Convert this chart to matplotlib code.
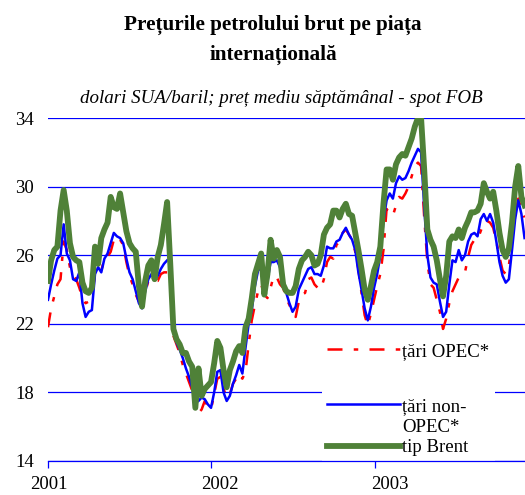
""" Weekly crude oil spot prices on the international market, 2001-2003. """

import matplotlib
matplotlib.use("Agg")
import matplotlib.pyplot as plt
from matplotlib.lines import Line2D
import numpy as np
import pandas as pd

# weekly averages, USD/barrel, starting with the first week of 2001
start = "2001-01-01"
nweeks = 153

opec = [
    21.8, 22.9, 23.6, 24.3, 24.6, 26.8, 26.3, 25.3, 24.8, 24.6,
    24.1, 23.5, 23.2, 23.3, 23.8, 24.8, 25.0, 25.1, 25.8, 25.9,
    26.2, 26.9, 27.1, 26.9, 26.6, 25.6, 24.8, 24.3, 23.7, 23.3,
    23.3, 23.8, 24.5, 24.6, 24.5, 24.5, 24.9, 25.0, 25.0, np.nan,
    21.3, 20.8, 20.3, 19.6, 19.1, 18.6, 18.1, 17.5, 16.8, 17.0,
    17.5, 17.2, 17.0, 17.9, 18.8, 18.9, 18.2, 17.7, 17.9, 18.5,
    18.8, 19.1, 18.8, 19.2, 20.8, 22.2, 23.1, 23.9, 24.3, 23.7,
    23.5, 24.1, 24.8, 24.7, 24.3, 24.1, 23.5, 23.1, 22.7, 22.4,
    23.3, 23.7, 23.8, 24.6, 24.7, 24.3, 24.1, 24.0, 24.6, 25.6,
    25.9, 25.8, 26.6, 26.8, 27.3, 27.5, 27.2, 26.9, 26.2, 25.2,
    23.8, 22.5, 21.9, 22.6, 23.4, 24.2, 24.9, 26.3, 28.7, 28.4,
    28.3, 28.9, 29.4, 29.3, 29.6, 30.0, 30.6, 31.2, 31.4, 31.2,
    28.2, 25.6, 24.3, 24.1, 23.4, 22.7, 21.7, 22.3, 23.2, 23.9,
    24.3, 24.7, 24.8, 25.0, 25.9, 26.6, 26.9, 26.9, 27.4, 27.9,
    28.0, 27.9, 27.6, 26.8, 25.9, 25.1, 24.9, 25.4, 26.9, 28.3,
    29.3, 28.7, 28.2,
]

nonopec = [
    23.4, 24.3, 25.1, 25.8, 26.0, 27.8, 26.1, 25.7, 24.6, 24.5,
    25.0, 23.2, 22.4, 22.7, 22.8, 24.9, 25.3, 25.0, 25.8, 26.1,
    26.7, 27.3, 27.1, 27.0, 26.7, 25.8, 25.0, 24.6, 23.9, 23.2,
    22.9, 23.9, 24.6, 24.9, 24.6, 24.8, 25.2, 25.5, 25.7, np.nan,
    21.6, 20.9, 20.5, 20.0, 19.4, 18.9, 18.3, 17.4, 17.5, 17.7,
    17.6, 17.3, 17.1, 18.0, 19.2, 19.3, 18.0, 17.5, 17.8, 18.5,
    19.0, 19.6, 19.1, 20.6, 22.0, 22.8, 24.2, 25.1, 25.3, 24.0,
    24.5, 25.6, 25.6, 25.7, 25.3, 24.6, 23.8, 23.2, 22.7, 23.0,
    24.0, 24.4, 24.8, 25.2, 25.3, 24.9, 24.9, 24.8, 25.4, 26.5,
    26.4, 26.4, 26.8, 26.9, 27.3, 27.6, 27.2, 26.9, 26.3, 25.0,
    24.0, 22.9, 22.2, 23.0, 24.1, 24.9, 26.0, 28.0, 29.2, 29.6,
    29.3, 30.2, 30.6, 30.4, 30.5, 30.9, 31.4, 31.8, 32.2, 32.0,
    28.8, 26.0, 24.7, 24.4, 24.3, 23.3, 22.4, 22.7, 24.3, 25.7,
    25.6, 26.3, 25.7, 26.0, 26.8, 27.2, 27.3, 27.1, 28.1, 28.4,
    28.0, 28.4, 27.9, 26.8, 25.6, 24.8, 24.4, 24.6, 26.3, 28.1,
    29.2, 28.4, 27.0,
]

brent = [
    24.5, 25.7, 26.3, 26.5, 28.6, 29.8, 28.6, 26.7, 25.9, 25.7,
    25.6, 24.4, 23.9, 23.8, 24.1, 26.5, 25.5, 27.0, 27.5, 27.9,
    29.4, 28.8, 28.7, 29.6, 28.5, 27.4, 26.7, 26.4, 26.2, 24.2,
    23.0, 24.5, 25.4, 25.7, 24.6, 25.9, 26.6, 27.8, 29.1, 25.5,
    21.7, 21.1, 20.8, 20.3, 20.3, 19.8, 19.5, 17.1, 19.4, 17.8,
    18.2, 18.4, 18.6, 19.7, 21.0, 20.6, 19.3, 18.3, 19.3, 19.8,
    20.4, 20.7, 20.3, 21.8, 22.3, 23.5, 24.9, 25.5, 26.1, 23.7,
    24.9, 26.9, 25.8, 26.3, 25.9, 24.3, 23.9, 23.8, 23.8, 24.2,
    25.2, 25.7, 25.9, 26.2, 26.0, 25.4, 25.5, 26.0, 27.2, 27.6,
    27.8, 28.6, 28.6, 28.2, 28.7, 29.0, 28.4, 28.3, 27.3, 26.3,
    25.2, 24.0, 23.4, 24.2, 25.1, 25.6, 26.5, 29.0, 31.0, 31.0,
    30.4, 31.3, 31.7, 31.9, 31.8, 32.3, 32.8, 33.5, 34.0, 34.0,
    31.0, 27.5, 26.9, 26.5, 25.7, 24.6, 23.6, 24.8, 26.8, 27.1,
    27.0, 27.5, 27.0, 27.6, 28.0, 28.5, 28.5, 28.6, 29.0, 30.2,
    29.7, 29.3, 29.7, 28.6, 27.3, 26.3, 25.9, 26.4, 27.9, 30.0,
    31.2, 29.4, 28.9,
]

years = ["2001", "2002", "2003"]
# the year labels sit a little to the right of their ticks, as in the source
yearlabelpos = ["2001-01-02", "2002-01-20", "2003-02-03"]

plt.rcParams["font.family"] = ["Liberation Serif", "DejaVu Serif"]

dates = pd.date_range(start, periods=nweeks, freq="7D")

fig = plt.figure(figsize=(5.25, 4.95), dpi=100)
ax = fig.add_axes([0.0914, 0.0687, 0.9086, 0.6929])

lopec, = ax.plot(dates, opec, color="#ff0000", lw=1.8,
                 linestyle=(0, (6, 4.5, 1.8, 4.5)))
lnon, = ax.plot(dates, nonopec, color="#0000ff", lw=1.8)
lbrent, = ax.plot(dates, brent, color="#4f8138", lw=4.2)

ax.set_ylim(14, 34)
ax.set_yticks(np.arange(14, 35, 4))
ax.set_xlim(pd.Timestamp("2001-01-01"), pd.Timestamp("2003-12-02"))
ax.set_xticks([pd.Timestamp(y + "-01-01") for y in years])
ax.set_xticklabels([])
ax.set_xticks([pd.Timestamp(d) for d in yearlabelpos], minor=True)
ax.set_xticklabels(years, minor=True)

ax.grid(axis="y", color="#0000ff", lw=0.9)
ax.set_axisbelow(True)
for s in ("left", "right", "top"):
    ax.spines[s].set_visible(False)
ax.spines["bottom"].set_color("#0000ff")
ax.spines["bottom"].set_linewidth(0.9)
ax.tick_params(axis="y", length=0, pad=10, labelsize=13.5)
ax.tick_params(axis="x", which="major", length=5, width=0.9,
               color="#0000ff", direction="out")
ax.tick_params(axis="x", which="minor", length=0, pad=11, labelsize=13.5)

# legend laid out like the source: a gap after the first entry and the
# non-OPEC label broken over two lines with its key on the first line
blank = Line2D([], [], linestyle="none")
leg = ax.legend([lopec, blank, lnon, blank, lbrent],
                ["țări OPEC*", " \n ", "țări non-", "OPEC*", "tip Brent"],
                loc="lower left", bbox_to_anchor=(0.574, -0.003),
                borderaxespad=0, fontsize=13.5, frameon=True,
                facecolor="white", edgecolor="none", framealpha=1,
                fancybox=False, handlelength=3.85, handletextpad=0.15,
                labelspacing=0.2, borderpad=0.3)
leg.get_texts()[1].set_linespacing(0.7)
leg.set_zorder(2.2)

fig.text(0.52, 1 - 30 / 495, "Prețurile petrolului brut pe piața",
         ha="center", va="baseline", fontsize=15.2, fontweight="bold")
fig.text(0.52, 1 - 60 / 495, "internațională",
         ha="center", va="baseline", fontsize=15.2, fontweight="bold")
fig.text(0.535, 1 - 103 / 495,
         "dolari SUA/baril; preț mediu săptămânal - spot FOB",
         ha="center", va="baseline", fontsize=13.7, style="italic")

fig.savefig("out.png", dpi=100)
